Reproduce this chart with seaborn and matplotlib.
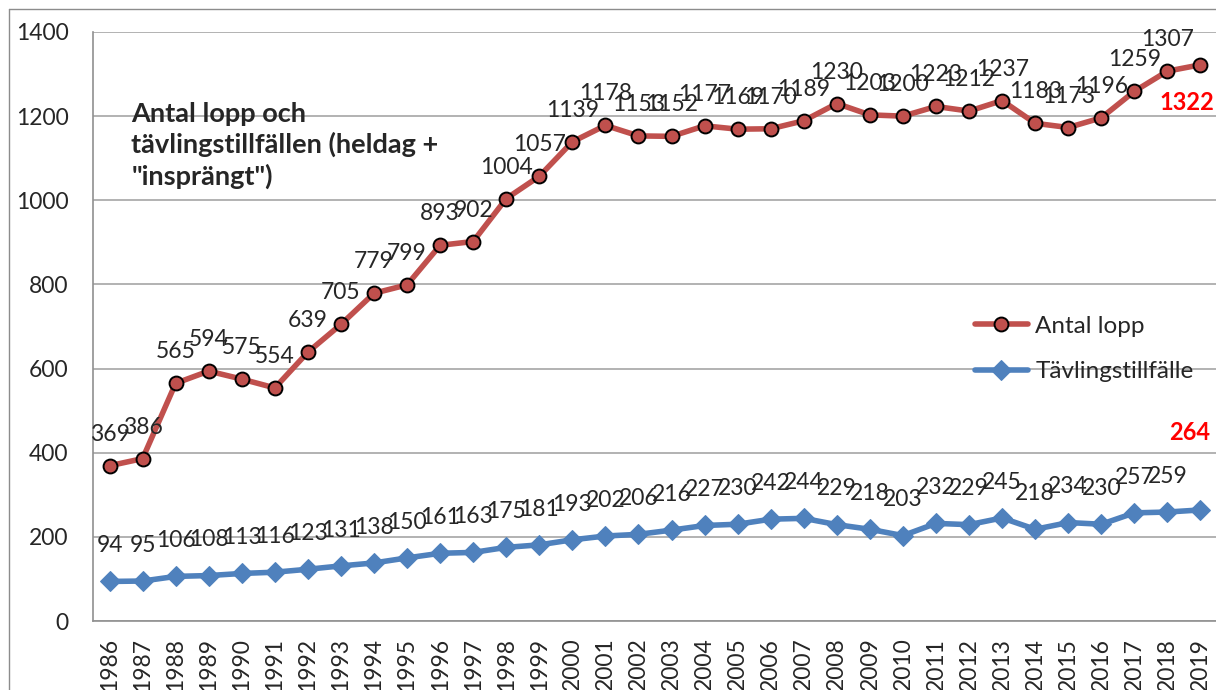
import numpy as np
import pandas as pd
import matplotlib.pyplot as plt
import seaborn as sns

years = list(range(1986, 2020))
antal_lopp = [369, 386, 565, 594, 575, 554, 639, 705, 779, 799, 893, 902, 1004, 1057,
              1139, 1178, 1153, 1152, 1177, 1169, 1170, 1189, 1230, 1203, 1200, 1223,
              1212, 1237, 1183, 1173, 1196, 1259, 1307, 1322]
tavling = [94, 95, 106, 108, 113, 116, 123, 131, 138, 150, 161, 163, 175, 181, 193,
           202, 206, 216, 227, 230, 242, 244, 229, 218, 203, 232, 229, 245, 218, 234,
           230, 257, 259, 264]

df = pd.DataFrame({
    'År': years * 2,
    'Antal': antal_lopp + tavling,
    'Serie': ['Antal lopp'] * len(years) + ['Tävlingstillfälle'] * len(years),
})

sns.set_style('white')
plt.rcParams['font.family'] = ['Lato', 'DejaVu Sans']

red = '#C0504D'
blue = '#4F81BD'

fig = plt.figure(figsize=(12.16, 6.9), dpi=100)
ax = fig.add_axes([93 / 1216, 0.1, 1124 / 1216, 589 / 690])

sns.lineplot(data=df[df['Serie'] == 'Antal lopp'], x='År', y='Antal', ax=ax,
             color=red, linewidth=4, marker='o', markersize=10,
             markerfacecolor=red, markeredgecolor='black', markeredgewidth=1.4,
             label='Antal lopp')
sns.lineplot(data=df[df['Serie'] == 'Tävlingstillfälle'], x='År', y='Antal', ax=ax,
             color=blue, linewidth=4, marker='D', markersize=10.5,
             markerfacecolor=blue, markeredgecolor=blue,
             label='Tävlingstillfälle')

# datalabels
for x, y in zip(years[:-1], antal_lopp[:-1]):
    ax.annotate(str(y), (x, y), xytext=(0, 18), textcoords='offset points',
                ha='center', va='baseline', fontsize=16.5)
for x, y in zip(years[:-1], tavling[:-1]):
    ax.annotate(str(y), (x, y), xytext=(0, 21), textcoords='offset points',
                ha='center', va='baseline', fontsize=16.5)
ax.annotate(str(antal_lopp[-1]), (years[-1], antal_lopp[-1]), xytext=(-10, -27),
            textcoords='offset points', ha='center', va='center', fontsize=17,
            fontweight='bold', color='red')
ax.annotate(str(tavling[-1]), (years[-1], tavling[-1]), xytext=(-8, 56),
            textcoords='offset points', ha='center', va='center', fontsize=17,
            fontweight='bold', color='red')

ax.text(0.034, 0.882, 'Antal lopp och\ntävlingstillfällen (heldag +\n"insprängt")',
        transform=ax.transAxes, ha='left', va='top', fontsize=19.5, fontweight='bold',
        linespacing=1.3)

ax.set_ylim(0, 1400)
ax.set_yticks(range(0, 1401, 200))
ax.set_xlim(years[0] - 0.5, years[-1] + 0.5)
ax.set_xticks(years)
ax.set_xticklabels([str(y) for y in years], rotation=90, fontsize=16.5)
ax.set_xticks(np.arange(years[0] - 0.5, years[-1] + 0.6, 1), minor=True)
ax.tick_params(axis='x', which='major', length=0, pad=12)
ax.tick_params(axis='x', which='minor', length=7, color='#909090', width=1.2)
ax.tick_params(axis='y', labelsize=16.5, length=6.5, color='#909090', width=1.2, pad=11)
ax.set_xlabel('')
ax.set_ylabel('')

ax.yaxis.grid(True, color='#A6A6A6', linewidth=1.2)
ax.set_axisbelow(True)
for s in ['top', 'right']:
    ax.spines[s].set_visible(False)
for s in ['left', 'bottom']:
    ax.spines[s].set_color('#909090')
    ax.spines[s].set_linewidth(1.2)

ax.legend(loc='upper left', bbox_to_anchor=(0.765, 0.555), frameon=False,
          fontsize=17.5, handlelength=2.2, handletextpad=0.3, labelspacing=1.0)

# chart frame (only the top and left edges are visible in the crop)
fig.add_artist(plt.Line2D([9 / 1216, 9 / 1216], [0, 1 - 9 / 690],
                          transform=fig.transFigure, color='#8C8C8C', linewidth=1))
fig.add_artist(plt.Line2D([9 / 1216, 1], [1 - 9 / 690, 1 - 9 / 690],
                          transform=fig.transFigure, color='#8C8C8C', linewidth=1))

fig.savefig('out.png', dpi=100)
